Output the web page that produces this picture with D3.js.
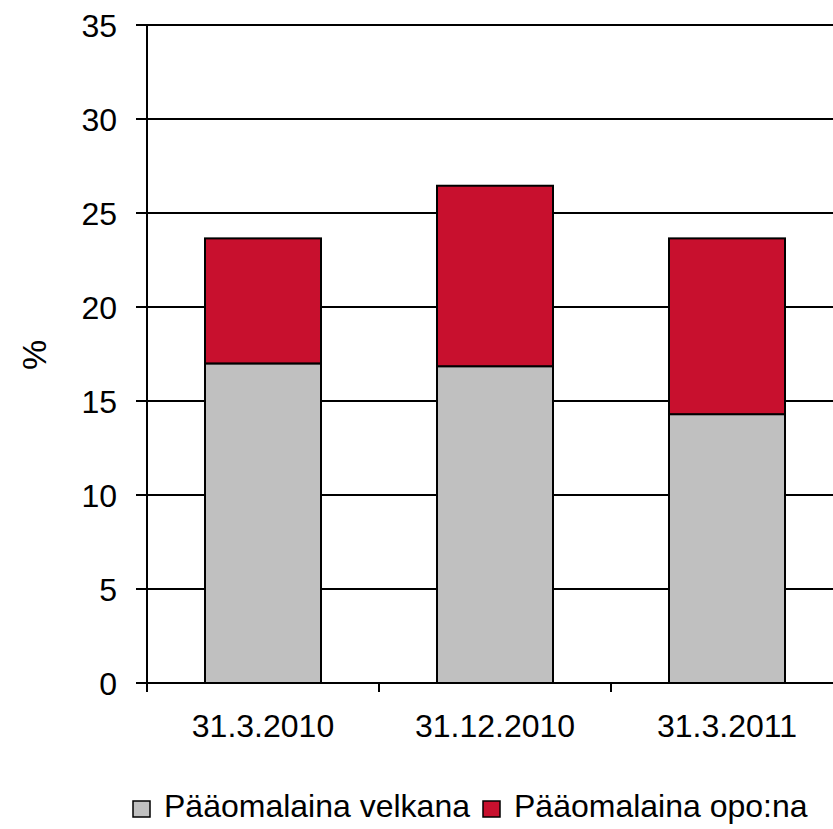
<!DOCTYPE html>
<html>
<head>
<meta charset="utf-8">
<script src="https://cdn.jsdelivr.net/npm/d3@7"></script>
<style>
  body { margin: 0; background: #fff; }
  svg { display: block; font-family: "Liberation Sans", Arial, sans-serif; }
</style>
</head>
<body>
<script>
const width = 833;
const height = 829;

// data
const categories = ["31.3.2010", "31.12.2010", "31.3.2011"];
const velkana = [17.0, 16.85, 14.3];
const opona = [6.65, 9.6, 9.35];
const seriesNames = ["Pääomalaina velkana", "Pääomalaina opo:na"];
const seriesColors = ["#c0c0c0", "#c8102e"];
const yTicks = [0, 5, 10, 15, 20, 25, 30, 35];

const svg = d3.select("body")
    .append("svg")
    .attr("width", width)
    .attr("height", height);

const x = d3.scaleBand()
    .domain(categories)
    .range([147, 843])
    .paddingInner(0.5)
    .paddingOuter(0.25);

const y = d3.scaleLinear()
    .domain([0, 35])
    .range([683, 25]);

// gridlines
svg.append("g")
    .selectAll("line")
    .data(yTicks)
    .enter()
    .append("line")
    .attr("x1", 136)
    .attr("x2", width)
    .attr("y1", (d) => y(d))
    .attr("y2", (d) => y(d))
    .attr("stroke", "#000")
    .attr("stroke-width", 2);

// y tick labels
svg.append("g")
    .selectAll("text")
    .data(yTicks)
    .enter()
    .append("text")
    .attr("x", 117)
    .attr("y", (d) => y(d))
    .attr("dy", "0.36em")
    .attr("text-anchor", "end")
    .attr("font-size", 32)
    .text((d) => d);

// stacked bars
const rows = categories.map((c, i) => ({ cat: c, a: velkana[i], b: opona[i] }));
const stack = d3.stack().keys(["a", "b"])(rows);

svg.append("g")
    .selectAll("g")
    .data(stack)
    .enter()
    .append("g")
    .attr("fill", (d, i) => seriesColors[i])
    .selectAll("rect")
    .data((d) => d)
    .enter()
    .append("rect")
    .attr("x", (d) => x(d.data.cat))
    .attr("width", x.bandwidth())
    .attr("y", (d) => y(d[1]))
    .attr("height", (d) => y(d[0]) - y(d[1]))
    .attr("stroke", "#000")
    .attr("stroke-width", 2);

// axes lines
svg.append("line")
    .attr("x1", 147).attr("x2", 147)
    .attr("y1", y(35)).attr("y2", 692)
    .attr("stroke", "#000").attr("stroke-width", 2);

svg.append("line")
    .attr("x1", 147).attr("x2", width)
    .attr("y1", y(0)).attr("y2", y(0))
    .attr("stroke", "#000").attr("stroke-width", 2);

// x ticks between categories
const step = x.step();
svg.append("g")
    .selectAll("line")
    .data(categories)
    .enter()
    .append("line")
    .attr("x1", (d) => x(d) - step * 0.25)
    .attr("x2", (d) => x(d) - step * 0.25)
    .attr("y1", y(0))
    .attr("y2", 692)
    .attr("stroke", "#000")
    .attr("stroke-width", 2);

// x labels
svg.append("g")
    .selectAll("text")
    .data(categories)
    .enter()
    .append("text")
    .attr("x", (d) => x(d) + x.bandwidth() / 2)
    .attr("y", 737)
    .attr("text-anchor", "middle")
    .attr("font-size", 32)
    .text((d) => d);

// y axis title
svg.append("text")
    .attr("transform", "translate(46,355) rotate(-90)")
    .attr("text-anchor", "middle")
    .attr("font-size", 34)
    .text("%");

// legend
const legendPos = [133, 483];
const legend = svg.append("g")
    .selectAll("g")
    .data(seriesNames)
    .enter()
    .append("g")
    .attr("transform", (d, i) => `translate(${legendPos[i]},801)`);

legend.append("rect")
    .attr("width", 17)
    .attr("height", 16)
    .attr("fill", (d, i) => seriesColors[i])
    .attr("stroke", "#000")
    .attr("stroke-width", 1.5);

legend.append("text")
    .attr("x", 31)
    .attr("y", 16)
    .attr("font-size", 32)
    .text((d) => d);
</script>
</body>
</html>
